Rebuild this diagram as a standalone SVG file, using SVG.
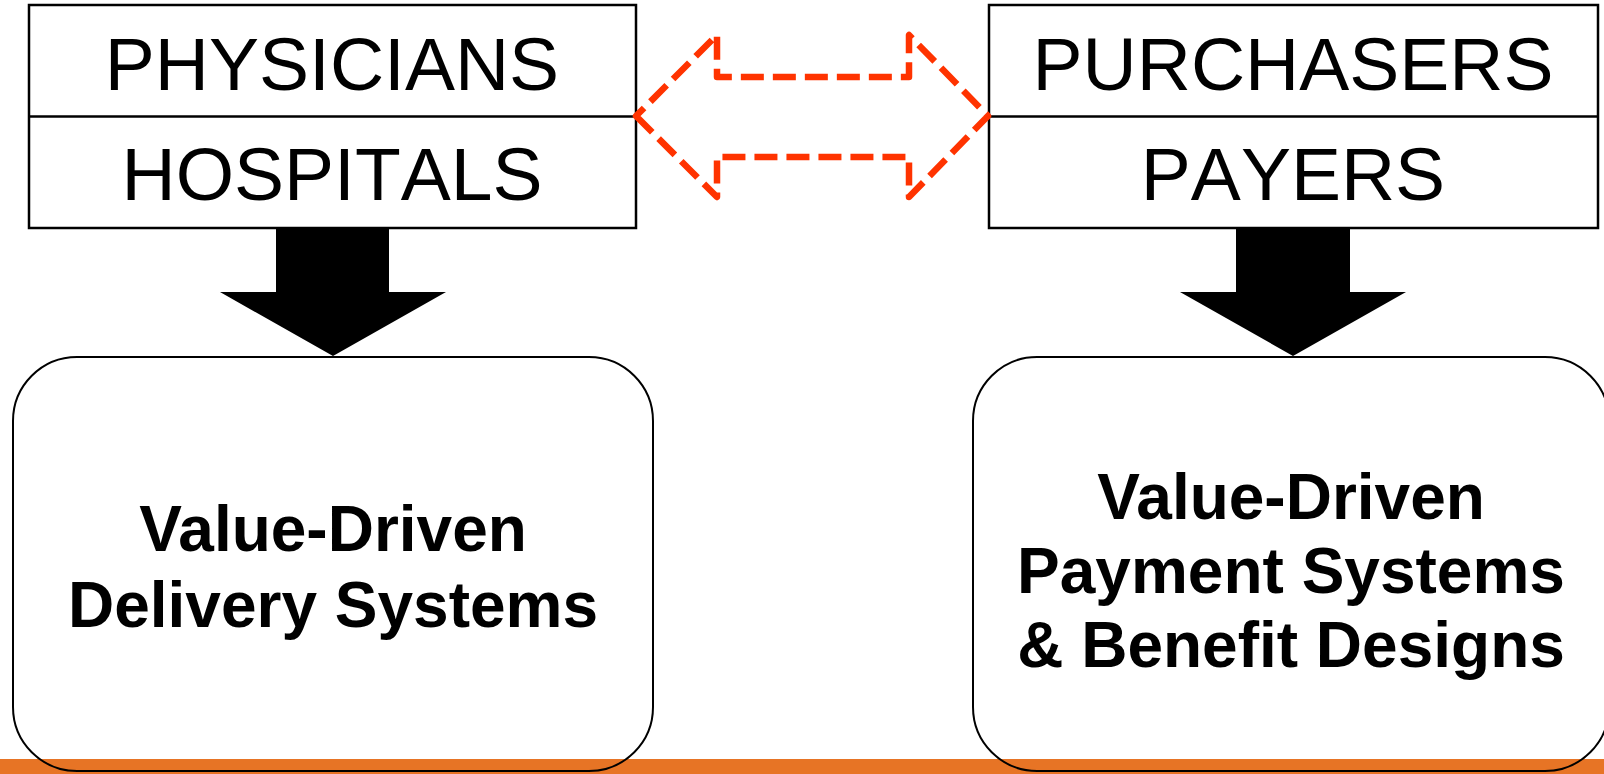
<svg xmlns="http://www.w3.org/2000/svg" width="1604" height="774" viewBox="0 0 1604 774">
  <style>
    .box { fill: #ffffff; stroke: #000000; stroke-width: 2.5; }
    .rbox { fill: none; stroke: #000000; stroke-width: 2; }
    .head { font-family: "Liberation Sans", Arial, sans-serif; font-size: 75px; font-kerning: none; fill: #000000; text-anchor: middle; }
    .body { font-family: "Liberation Sans", Arial, sans-serif; font-size: 64px; font-weight: bold; fill: #000000; text-anchor: middle; }
    .down { fill: #000000; }
    .link { fill: none; stroke: #ff3300; stroke-width: 6.5; stroke-dasharray: 23 9; stroke-linejoin: round; }
  </style>
  <rect width="1604" height="774" fill="#ffffff"/>

  <!-- footer band -->
  <rect id="footer" x="0" y="759" width="1604" height="15" fill="#e77425"/>

  <g id="providers">
    <rect class="box" x="29" y="5" width="607" height="223"/>
    <line x1="29" y1="116.5" x2="636" y2="116.5" stroke="#000000" stroke-width="2.5"/>
    <text class="head" x="332" y="90">PHYSICIANS</text>
    <text class="head" x="332" y="200">HOSPITALS</text>
  </g>

  <g id="buyers">
    <rect class="box" x="989" y="5" width="609" height="223"/>
    <line x1="989" y1="116.5" x2="1598" y2="116.5" stroke="#000000" stroke-width="2.5"/>
    <text class="head" x="1293" y="90">PURCHASERS</text>
    <text class="head" x="1293" y="200">PAYERS</text>
  </g>

  <g id="delivery">
    <rect class="rbox" x="13" y="357" width="640" height="414" rx="64" ry="64"/>
    <text class="body" x="333" y="551">Value-Driven</text>
    <text class="body" x="333" y="627">Delivery Systems</text>
  </g>

  <g id="payment">
    <rect class="rbox" x="973" y="357" width="636" height="414" rx="64" ry="64"/>
    <text class="body" x="1291" y="519">Value-Driven</text>
    <text class="body" x="1291" y="593">Payment Systems</text>
    <text class="body" x="1291" y="667">&amp; Benefit Designs</text>
  </g>

  <g id="connectors">
    <path class="down" d="M276 228 H389 V292 H446 L333 356 L220 292 H276 Z"/>
    <path class="down" d="M1236 228 H1350 V292 H1406 L1293 356 L1180 292 H1236 Z"/>
    <path class="link" d="M636 116 L717 197 L717 157 L909 157 L909 197 L988 116 L909 35 L909 77 L717 77 L717 35 Z"/>
  </g>
</svg>
